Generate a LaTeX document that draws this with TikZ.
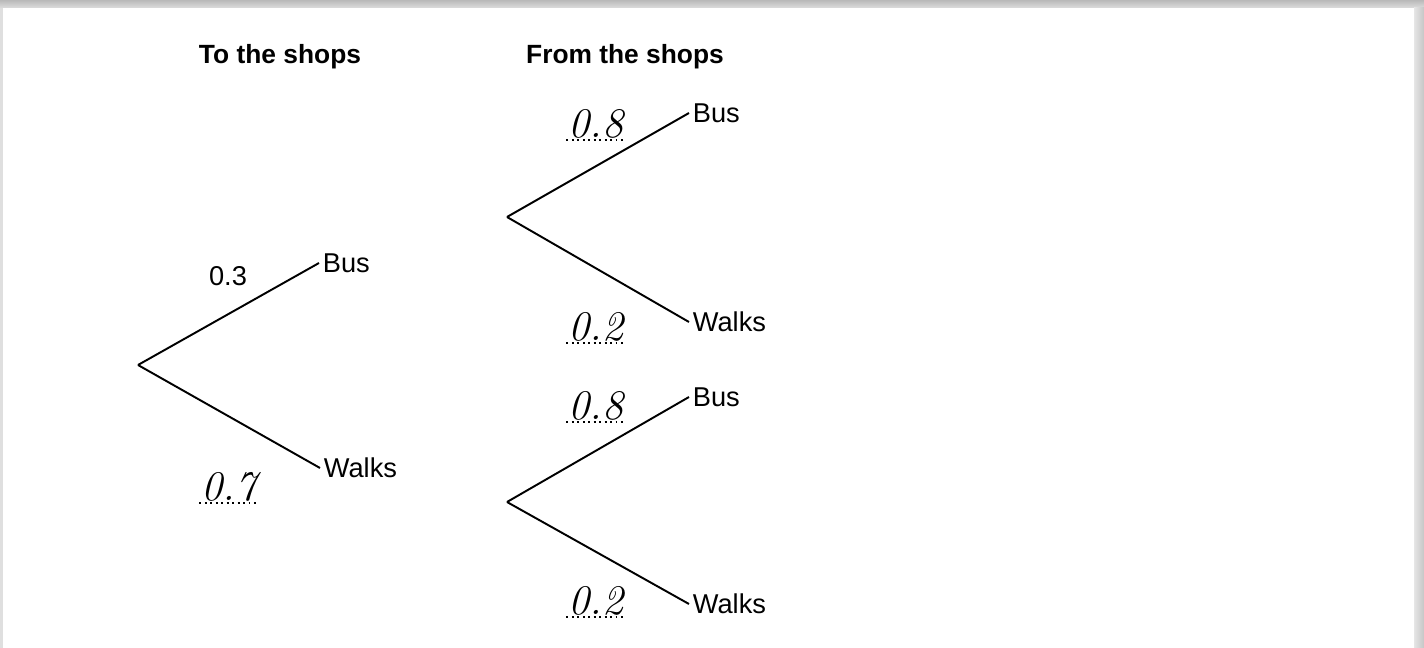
\documentclass[tikz,border=0pt]{standalone}
\usepackage{fontspec}
\setsansfont{Liberation Sans}
\usepackage{xcolor}
\usepackage{tikz}
\usetikzlibrary{positioning,calc}

\begin{document}
\begin{tikzpicture}[x=0.02cm, y=-0.02cm,
    head/.style={font=\sffamily\bfseries\fontsize{15}{18}\selectfont},
    lbl/.style={font=\sffamily\fontsize{15.5}{18}\selectfont, inner sep=2pt, anchor=west},
    hand/.style={font=\itshape\fontsize{24}{26}\selectfont, minimum width=1.14cm, inner sep=1pt, anchor=south},
    branch/.style={line width=1.1pt},
    dots/.style={dotted, line width=1.1pt}]
    \useasboundingbox (0,0) rectangle (1424,648);
    % frame shadow
    \shade[top color=gray!55, bottom color=gray!20] (0,0) rectangle (1424,10);
    \fill[gray!25] (0,8) rectangle (3,648);
    \shade[left color=gray!20, right color=gray!45] (1414,8) rectangle (1424,648);
    \fill[white] (3,8) rectangle (1414,648);

    \node[head] (toshops) at (280,57) {To the shops};
    \node[head] (fromshops) at (625,57) {From the shops};

    % first stage
    \coordinate (root1) at (138,365);
    \node[lbl] (bus1) at (319,263) {Bus};
    \node[lbl] (walk1) at (320,468) {Walks};
    \draw[branch] (root1) -- (bus1.west);
    \draw[branch] (root1) -- (walk1.west);
    \node[font=\sffamily\fontsize{15.5}{18}\selectfont] (p1) at (228,276) {0.3};
    \node[hand] (p2) at (229,503) {0.7};
    \draw[dots] (p2.south west) -- (p2.south east);

    % second stage, after bus
    \coordinate (root2) at (507,217);
    \node[lbl] (bus2) at (689,113) {Bus};
    \node[lbl] (walk2) at (689,322) {Walks};
    \draw[branch] (root2) -- (bus2.west);
    \draw[branch] (root2) -- (walk2.west);
    \node[hand] (p3) at (596,140) {0.8};
    \draw[dots] (p3.south west) -- (p3.south east);
    \node[hand] (p4) at (596,343) {0.2};
    \draw[dots] (p4.south west) -- (p4.south east);

    % second stage, after walks
    \coordinate (root3) at (507,502);
    \node[lbl] (bus3) at (689,397) {Bus};
    \node[lbl] (walk3) at (689,604) {Walks};
    \draw[branch] (root3) -- (bus3.west);
    \draw[branch] (root3) -- (walk3.west);
    \node[hand] (p5) at (596,422) {0.8};
    \draw[dots] (p5.south west) -- (p5.south east);
    \node[hand] (p6) at (596,617) {0.2};
    \draw[dots] (p6.south west) -- (p6.south east);
\end{tikzpicture}
\end{document}
